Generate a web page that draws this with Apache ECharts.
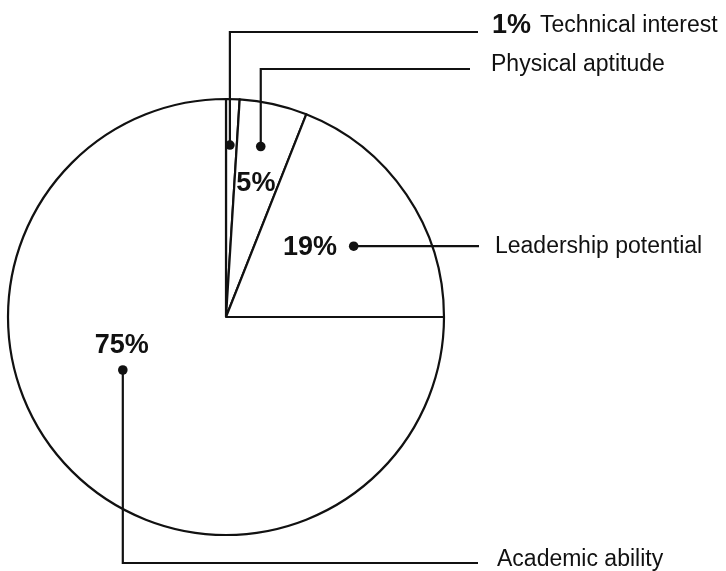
<!DOCTYPE html>
<html>
<head>
<meta charset="utf-8">
<style>
  html, body { margin: 0; padding: 0; background: #fff; }
  #chart { width: 726px; height: 571px; }
</style>
<script src="https://cdn.jsdelivr.net/npm/echarts@6/dist/echarts.min.js"></script>
</head>
<body>
<div id="chart"></div>
<script>
// data
var categories = ['Technical interest', 'Physical aptitude', 'Leadership potential', 'Academic ability'];
var shares = [1, 5, 19, 75];

// pie geometry
var cx = 226, cy = 317, radius = 218;
var ink = '#111';
var labelFont = '23px "Liberation Sans", Arial, sans-serif';
var pctFont = 'bold 27px "Liberation Sans", Arial, sans-serif';

// where each annotation dot sits: fraction along the slice, distance from centre
var dotPlace = [[0.36, 172], [0.44, 174], [0.576, 146], [0.566, 116]];
// where the bold % sits inside the slice (null = next to the label instead)
var pctPlace = [null, [0.5, 137], [0.42, 109], [0.61, 108]];

var total = shares.reduce(function (a, b) { return a + b; }, 0);
var slices = [];
var acc = 0;
shares.forEach(function (v) {
  var a0 = acc / total * 360;
  acc += v;
  slices.push([a0, acc / total * 360]);
});

function polar(deg, r) {
  var t = deg * Math.PI / 180;
  return [cx + r * Math.sin(t), cy - r * Math.cos(t)];
}
function sliceAt(i, place) {
  var s = slices[i];
  return polar(s[0] + (s[1] - s[0]) * place[0], place[1]);
}

var dots = dotPlace.map(function (p, i) { return sliceAt(i, p); });

// leader line routes: turn y (or null), end x, text x, text y
var leaders = [
  { turnY: 32, endX: 478, tx: 540, ty: 26 },
  { turnY: 69, endX: 470, tx: 491, ty: 65 },
  { turnY: null, endX: 479, tx: 495, ty: 247 },
  { turnY: 563, endX: 478, tx: 497, ty: 560 }
];

var graphics = [];
dots.forEach(function (d, i) {
  var L = leaders[i];
  var pts = L.turnY === null
    ? [[d[0], d[1]], [L.endX, d[1]]]
    : [[d[0], d[1]], [d[0], L.turnY], [L.endX, L.turnY]];
  graphics.push({
    type: 'polyline', silent: true, z: 100,
    shape: { points: pts },
    style: { stroke: ink, lineWidth: 2.2, fill: null }
  });
  graphics.push({
    type: 'circle', silent: true, z: 100,
    shape: { cx: d[0], cy: d[1], r: 4.8 },
    style: { fill: ink }
  });
  graphics.push({
    type: 'text', silent: true, z: 100,
    style: { text: categories[i], x: L.tx, y: L.ty, font: labelFont, fill: ink,
             textAlign: 'left', textVerticalAlign: 'middle' }
  });
  var pos = pctPlace[i] ? sliceAt(i, pctPlace[i]) : [492, L.ty];
  graphics.push({
    type: 'text', silent: true, z: 100,
    style: { text: shares[i] + '%', x: pos[0], y: pos[1], font: pctFont, fill: ink,
             textAlign: pctPlace[i] ? 'center' : 'left', textVerticalAlign: 'middle' }
  });
});

var chart = echarts.init(document.getElementById('chart'));
chart.setOption({
  animation: false,
  backgroundColor: '#fff',
  series: [{
    type: 'pie',
    z: 1,
    center: [cx, cy],
    radius: radius,
    startAngle: 90,
    clockwise: true,
    silent: true,
    label: { show: false },
    labelLine: { show: false },
    emphasis: { disabled: true },
    itemStyle: { color: '#fff', borderColor: ink, borderWidth: 2.2 },
    data: categories.map(function (c, i) { return { name: c, value: shares[i] }; })
  }],
  graphic: graphics
});
</script>
</body>
</html>
